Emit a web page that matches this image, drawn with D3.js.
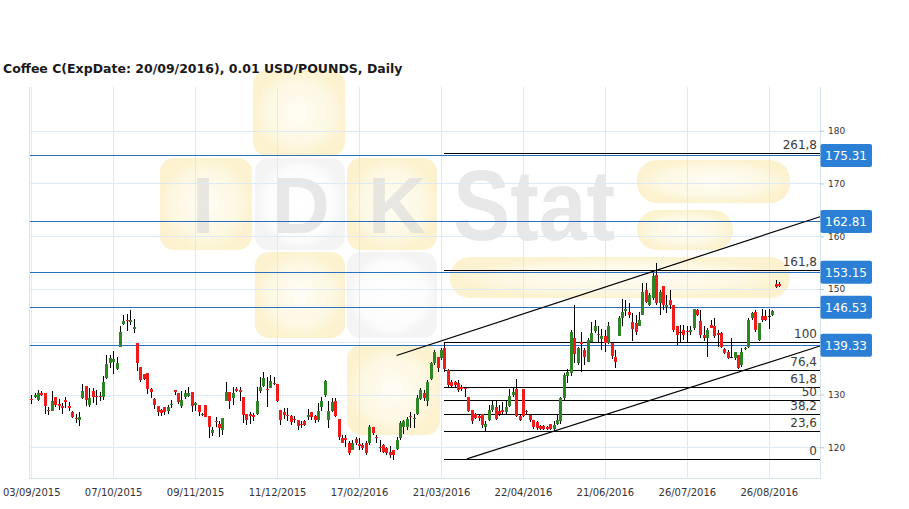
<!DOCTYPE html>
<html>
<head>
<meta charset="utf-8">
<script src="https://cdn.jsdelivr.net/npm/d3@7"></script>
<style>
html,body{margin:0;padding:0;background:#fff;}
svg{display:block;}
</style>
</head>
<body>
<svg id="chart" width="909" height="509"></svg>
<script>
const chartTitle = "Coffee C(ExpDate: 20/09/2016), 0.01 USD/POUNDS, Daily";
const dateLabels = ["03/09/2015","07/10/2015","09/11/2015","11/12/2015","17/02/2016","21/03/2016","22/04/2016","21/06/2016","26/07/2016","26/08/2016"];
const dateTickIndex = [0,24,48,72,96,120,144,168,192,216];
const priceTicks = [120,130,140,150,160,170,180];
const hiddenPriceLabels = [140];

const opens = [
129.1,129.5,129.0,130.2,130.2,127.1,126.9,129.5,128.2,127.9,
128.9,127.9,126.6,125.5,125.1,129.3,131.6,128.1,130.6,129.8,
129.7,129.6,133.1,135.9,136.2,134.8,139.1,143.3,144.1,143.8,
142.4,139.7,135.3,133.9,134.0,131.0,129.2,127.8,127.0,127.7,
126.8,128.0,130.9,130.2,127.8,129.5,129.8,130.4,128.0,128.0,
126.1,128.0,125.9,122.8,125.0,124.4,123.2,128.8,130.5,129.3,
131.0,130.9,129.5,126.3,126.4,126.2,126.4,130.6,131.7,131.0,
131.2,132.2,132.0,127.1,126.6,126.1,125.9,125.3,125.1,124.5,
125.0,125.8,126.6,125.9,125.1,127.7,129.9,125.2,126.8,128.7,
125.4,121.8,121.7,120.9,119.5,121.5,120.6,120.4,120.8,120.8,
123.8,122.0,120.0,120.4,119.8,119.2,119.4,119.6,121.7,123.9,
123.8,126.0,125.4,126.3,129.1,130.2,128.7,132.9,135.9,137.2,
136.9,138.8,134.7,132.4,132.4,132.1,131.4,131.2,129.6,127.1,
126.3,125.9,126.4,123.9,125.2,127.1,127.7,126.9,127.1,126.6,
127.8,129.9,131.0,125.9,131.0,126.8,126.1,125.2,124.7,124.0,
124.0,123.9,124.4,123.4,124.5,124.9,129.3,133.5,134.0,140.8,
135.9,140.0,138.4,136.2,140.0,142.1,141.4,140.5,141.1,139.7,
139.8,137.1,141.1,144.5,145.9,145.7,143.8,143.5,142.9,145.1,
149.8,147.0,148.2,152.6,147.3,150.5,146.5,147.9,147.0,142.9,
141.9,142.2,142.0,141.9,142.6,146.0,143.9,141.3,140.7,143.1,
143.0,141.6,141.6,138.6,138.1,137.2,136.9,137.5,135.6,138.8,
139.1,144.5,145.7,140.3,144.8,144.8,144.8,145.0,150.9,150.9];

const highs = [
129.9,130.2,130.9,130.7,130.2,127.7,130.6,129.6,129.2,128.3,
129.6,128.6,126.8,126.4,126.6,131.9,131.6,131.2,131.2,130.9,
130.4,133.5,137.5,137.5,138.3,137.2,142.9,145.1,145.3,146.0,
144.4,139.7,135.3,133.9,134.0,131.2,129.3,127.8,127.3,127.7,
128.0,129.0,130.9,130.2,130.7,130.9,131.4,130.4,128.6,128.0,
126.5,128.0,125.9,123.9,125.8,125.0,125.5,132.4,130.5,131.5,
131.5,131.5,129.6,126.3,126.7,126.5,131.5,133.3,134.3,133.4,
133.7,133.4,132.0,127.1,127.4,127.4,126.1,125.9,125.2,124.9,
125.2,127.2,126.6,126.1,128.3,129.5,132.8,128.7,129.3,129.3,
125.4,122.3,122.3,121.1,121.4,122.0,121.7,120.8,121.2,124.2,
123.8,122.3,121.4,120.6,120.1,120.3,119.5,122.0,124.9,125.2,
125.8,126.6,126.4,129.9,131.2,130.9,132.8,136.2,138.4,137.2,
138.8,139.8,134.8,132.8,132.6,132.8,131.8,131.5,129.6,127.1,
126.5,126.2,126.4,124.9,128.0,128.8,128.8,128.0,128.6,129.0,
131.0,131.2,132.9,126.1,131.0,127.1,126.4,125.2,124.9,124.2,
124.2,124.1,124.5,124.9,126.1,129.6,134.0,134.8,142.2,146.9,
139.1,141.9,138.8,140.7,143.8,144.1,142.9,142.4,142.2,143.8,
139.8,138.4,144.8,148.1,147.9,147.3,145.4,145.1,145.7,151.1,
151.1,149.2,153.0,154.9,149.8,150.5,148.9,149.8,147.0,142.9,
143.2,143.2,142.9,142.9,146.3,146.3,146.0,142.9,142.7,144.1,
144.5,142.2,141.9,138.9,138.5,140.7,138.1,137.5,138.8,139.1,
144.5,145.7,146.0,143.5,146.3,146.0,146.3,146.0,151.7,151.4];

const lows = [
128.2,129.3,128.7,129.7,126.3,126.1,126.9,127.7,127.1,126.3,
127.4,126.8,125.5,124.6,124.0,129.1,127.8,127.6,128.3,128.0,
128.8,129.0,132.9,135.1,133.8,134.7,139.1,143.2,142.1,143.2,
141.6,134.5,132.4,132.8,130.1,129.3,127.2,125.9,126.0,126.1,
126.3,127.5,129.9,128.2,127.4,129.1,129.5,126.6,126.9,125.9,
125.9,125.7,121.7,122.1,123.9,122.0,122.3,128.7,127.2,128.0,
130.5,128.7,124.6,124.2,124.5,125.0,126.1,130.2,131.5,127.7,
131.2,131.8,128.5,124.2,125.3,124.9,124.2,124.6,123.3,123.6,
124.0,125.2,125.2,124.6,124.8,126.8,129.6,123.6,126.6,125.7,
121.4,120.8,120.1,118.6,119.4,120.4,119.5,119.4,118.6,120.5,
122.3,120.8,119.2,118.9,118.6,117.9,117.5,119.5,121.4,122.5,
123.3,123.6,123.6,126.1,129.0,128.7,127.8,132.8,135.6,134.3,
136.6,134.3,131.5,131.2,131.4,130.5,130.7,129.6,126.6,124.4,
125.3,125.0,123.6,123.0,124.9,126.6,125.2,125.9,126.4,126.4,
127.6,129.6,125.7,124.9,125.7,126.1,124.7,123.4,123.3,123.3,
123.2,123.2,123.2,123.0,124.2,124.5,129.0,132.1,133.5,135.9,
135.6,134.2,135.6,136.1,139.7,141.6,139.7,138.4,138.1,139.6,
136.7,135.0,141.0,142.9,144.8,144.5,140.2,141.3,142.9,145.0,
147.3,146.7,147.9,147.0,145.1,146.0,145.4,146.3,141.9,139.4,
139.7,140.3,139.7,141.3,142.2,144.9,140.7,140.2,137.2,142.6,
140.7,139.1,138.8,137.6,136.7,136.9,136.6,134.9,135.3,138.5,
138.8,144.1,141.9,140.2,143.8,143.9,142.4,144.8,150.2,150.3];

const closes = [
128.9,130.0,130.2,129.9,127.9,127.0,128.8,128.0,127.9,127.4,
128.6,127.5,125.8,125.3,125.8,130.7,129.0,129.3,129.6,129.7,
129.5,132.3,135.7,136.9,136.7,136.0,141.9,144.0,144.0,144.1,
142.8,136.0,132.8,132.9,131.0,130.5,128.0,126.6,126.5,126.6,
127.7,128.2,130.5,128.5,129.0,130.2,130.2,127.8,128.3,126.6,
126.4,125.8,123.8,123.3,124.9,123.6,125.5,130.5,128.7,130.2,
130.7,130.4,126.1,125.2,126.0,125.8,128.8,131.5,133.1,130.9,
132.6,132.0,128.7,125.2,126.1,125.9,124.7,125.1,124.0,124.3,
124.2,126.2,125.7,125.2,126.8,128.7,132.6,126.8,128.5,125.9,
121.9,120.9,121.3,118.9,120.9,120.8,120.3,119.8,118.9,123.8,
122.7,121.9,119.9,119.2,119.0,118.6,118.6,121.4,124.6,124.9,
125.3,125.8,125.5,129.3,130.9,129.3,132.4,135.9,138.1,135.0,
138.4,134.8,131.8,131.6,131.8,130.9,131.0,131.1,126.8,124.9,
125.6,125.5,124.2,124.5,127.1,128.0,125.3,126.3,126.6,127.7,
129.7,130.5,125.9,125.2,125.9,126.7,125.1,123.9,123.6,123.4,
123.4,123.5,123.5,124.2,125.2,129.3,133.7,134.3,141.9,137.7,
138.8,139.6,137.1,140.3,141.6,143.0,141.2,141.0,139.7,143.0,
137.3,136.2,144.5,145.7,146.3,145.1,142.4,141.9,144.1,149.5,
147.6,148.9,152.5,147.4,149.5,147.0,147.0,147.0,142.2,141.3,
141.9,141.3,141.9,142.3,146.3,145.1,141.3,140.7,142.2,142.7,
141.0,141.3,139.1,137.8,136.9,137.2,138.0,135.1,138.1,138.9,
144.1,145.4,142.2,143.5,144.1,144.1,144.8,145.8,150.4,150.5];

const levelValues = [175.31,162.81,153.15,146.53,139.33];
const fibLevels = [0,23.6,38.2,50,61.8,76.4,100,161.8,261.8];
const fibLabels = ["0","23,6","38,2","50","61,8","76,4","100","161,8","261,8"];
const fibSwing = [117.8,139.95];
const fibStartIndex = 121;
const upperChannel = [[107,137.4],[231,163.7]];
const lowerChannel = [[127.6,117.8],[231,139.2]];

const svg = d3.select("#chart");
const L = 29.5, R = 820, T = 87, B = 478;
const FONT = "DejaVu Sans";

const x = d3.scaleLinear().domain([-0.5,231]).range([L,R]);
const y = d3.scaleLinear().domain([114.18,188.28]).range([B,T]);

// ---------- watermark (background logo) ----------
const defs = svg.append("defs");
const gY = defs.append("radialGradient").attr("id","gYel");
gY.append("stop").attr("offset","0%").attr("stop-color","#fffdf5");
gY.append("stop").attr("offset","70%").attr("stop-color","#fdf8e3");
gY.append("stop").attr("offset","100%").attr("stop-color","#fcf2cf");
const gW = defs.append("radialGradient").attr("id","gWht");
gW.append("stop").attr("offset","0%").attr("stop-color","#ffffff");
gW.append("stop").attr("offset","75%").attr("stop-color","#fcfcfc");
gW.append("stop").attr("offset","100%").attr("stop-color","#f4f4f4");

const wm = svg.append("g");
const wmBoxes = [
  [253,70,92,86,"gYel"],[160,158,92,92,"gYel"],[255,158,90,92,"gWht"],[347,158,90,92,"gYel"],
  [255,252,90,86,"gYel"],[347,252,90,86,"gWht"],[347,345,93,90,"gYel"]
];
wm.selectAll("rect.box").data(wmBoxes).join("rect").attr("class","box")
  .attr("x",d=>d[0]).attr("y",d=>d[1]).attr("width",d=>d[2]).attr("height",d=>d[3])
  .attr("rx",14).attr("fill",d=>`url(#${d[4]})`);
const wmBars = [[637,160,153,43],[637,210,96,40],[450,257,340,41]];
wm.selectAll("rect.bar").data(wmBars).join("rect").attr("class","bar")
  .attr("x",d=>d[0]).attr("y",d=>d[1]).attr("width",d=>d[2]).attr("height",d=>d[3])
  .attr("rx",20).attr("fill","url(#gYel)");
const wmLetters = [["I",203,233,80],["D",301,233,80],["K",397,233,80]];
wm.selectAll("text.l").data(wmLetters).join("text").attr("class","l")
  .attr("x",d=>d[1]).attr("y",d=>d[2]).attr("text-anchor","middle")
  .attr("font-family","Liberation Sans").attr("font-weight","bold").attr("font-size",d=>d[3])
  .attr("fill","#d2d2d2").attr("fill-opacity",0.5).text(d=>d[0]);
wm.append("text").attr("x",453).attr("y",240)
  .attr("font-family","Liberation Sans").attr("font-weight","bold").attr("font-size",100)
  .attr("textLength",162).attr("lengthAdjust","spacingAndGlyphs")
  .attr("fill","#d2d2d2").attr("fill-opacity",0.5).text("Stat");

// ---------- grid ----------
const grid = svg.append("g").attr("shape-rendering","crispEdges");
grid.selectAll("line.v").data(dateTickIndex).join("line").attr("class","v")
  .attr("x1",d=>Math.round(x(d))+0.5).attr("x2",d=>Math.round(x(d))+0.5)
  .attr("y1",T).attr("y2",B).attr("stroke","#dde9f4");
grid.selectAll("line.h").data(priceTicks).join("line").attr("class","h")
  .attr("x1",L).attr("x2",R).attr("y1",d=>Math.round(y(d))+0.5).attr("y2",d=>Math.round(y(d))+0.5)
  .attr("stroke","#dde9f4");
grid.append("line").attr("x1",L).attr("x2",L).attr("y1",T).attr("y2",B+0.5).attr("stroke","#d3e3f1");
grid.append("line").attr("x1",R+0.5).attr("x2",R+0.5).attr("y1",T).attr("y2",B+0.5).attr("stroke","#d3e3f1");
grid.append("line").attr("x1",L).attr("x2",R+0.5).attr("y1",B+0.5).attr("y2",B+0.5).attr("stroke","#d3e3f1");

// ---------- axes ----------
const gx = svg.append("g").attr("transform",`translate(0,${B})`)
  .call(d3.axisBottom(x).tickValues(dateTickIndex).tickFormat((d,i)=>dateLabels[i]).tickSize(0).tickPadding(11));
gx.select(".domain").remove();
gx.attr("font-family",FONT).attr("font-size",10);
gx.selectAll("text").attr("fill","#333");

const gyA = svg.append("g").attr("transform",`translate(${R},0)`)
  .call(d3.axisRight(y).tickValues(priceTicks).tickSize(4).tickPadding(4)
    .tickFormat(d => hiddenPriceLabels.includes(d) ? "" : d3.format("d")(d)));
gyA.select(".domain").remove();
gyA.attr("font-family",FONT).attr("font-size",9);
gyA.selectAll("line").attr("stroke","#b8c8d8");
gyA.selectAll("text").attr("fill","#333");

// ---------- horizontal levels ----------
const lev = svg.append("g").attr("shape-rendering","crispEdges");
lev.selectAll("line").data(levelValues).join("line")
  .attr("x1",L).attr("x2",R).attr("y1",d=>Math.round(y(d))+0.5).attr("y2",d=>Math.round(y(d))+0.5)
  .attr("stroke","#2b6fc1").attr("stroke-width",1);

// ---------- fibonacci ----------
const fibVal = lv => fibSwing[0] + (fibSwing[1]-fibSwing[0])*lv/100;
const fib = svg.append("g");
fib.selectAll("line").data(fibLevels).join("line").attr("shape-rendering","crispEdges")
  .attr("x1",x(fibStartIndex)).attr("x2",R)
  .attr("y1",d=>Math.round(y(fibVal(d)))+0.5).attr("y2",d=>Math.round(y(fibVal(d)))+0.5)
  .attr("stroke","#000").attr("stroke-width",1);
fib.selectAll("text").data(fibLevels).join("text")
  .attr("x",R-3).attr("y",d=>y(fibVal(d))-4).attr("text-anchor","end")
  .attr("font-family",FONT).attr("font-size",12).attr("fill","#3a3a3a")
  .text((d,i)=>fibLabels[i]);

// ---------- candles ----------
const idx = d3.range(opens.length);
const cg = svg.append("g").attr("shape-rendering","crispEdges");
const colorOf = i => Math.abs(closes[i]-opens[i]) < 0.05 ? "#222" : (closes[i] > opens[i] ? "#2f8526" : "#f01c1c");
cg.selectAll("line").data(idx).join("line")
  .attr("x1",i=>Math.round(x(i))+0.5).attr("x2",i=>Math.round(x(i))+0.5)
  .attr("y1",i=>y(highs[i])).attr("y2",i=>y(lows[i]))
  .attr("stroke","#000").attr("stroke-width",1);
cg.selectAll("rect").data(idx).join("rect")
  .attr("x",i=>Math.round(x(i))-1).attr("width",3)
  .attr("y",i=>Math.min(y(opens[i]),y(closes[i])))
  .attr("height",i=>Math.max(1,Math.abs(y(opens[i])-y(closes[i]))))
  .attr("fill",colorOf);

// ---------- channel ----------
const ln = d3.line().x(d=>x(d[0])).y(d=>y(d[1]));
svg.selectAll("path.ch").data([upperChannel,lowerChannel]).join("path").attr("class","ch")
  .attr("d",ln).attr("fill","none").attr("stroke","#000").attr("stroke-width",1.2);

// ---------- level boxes ----------
const box = svg.append("g");
box.selectAll("rect").data(levelValues).join("rect")
  .attr("x",R+0.5).attr("y",d=>y(d)-11.5).attr("width",51.5).attr("height",23)
  .attr("rx",2).attr("fill","#2b7fd4");
box.selectAll("text").data(levelValues).join("text")
  .attr("x",R+26).attr("y",d=>y(d)).attr("dy","0.36em").attr("text-anchor","middle")
  .attr("font-family",FONT).attr("font-size",12).attr("fill","#fff")
  .text(d=>d.toFixed(2));

// ---------- title ----------
svg.append("text").attr("x",3).attr("y",73.3)
  .attr("font-family",FONT).attr("font-weight","bold").attr("font-size",12.5)
  .attr("fill","#1a1a1a").text(chartTitle);
</script>
</body>
</html>
